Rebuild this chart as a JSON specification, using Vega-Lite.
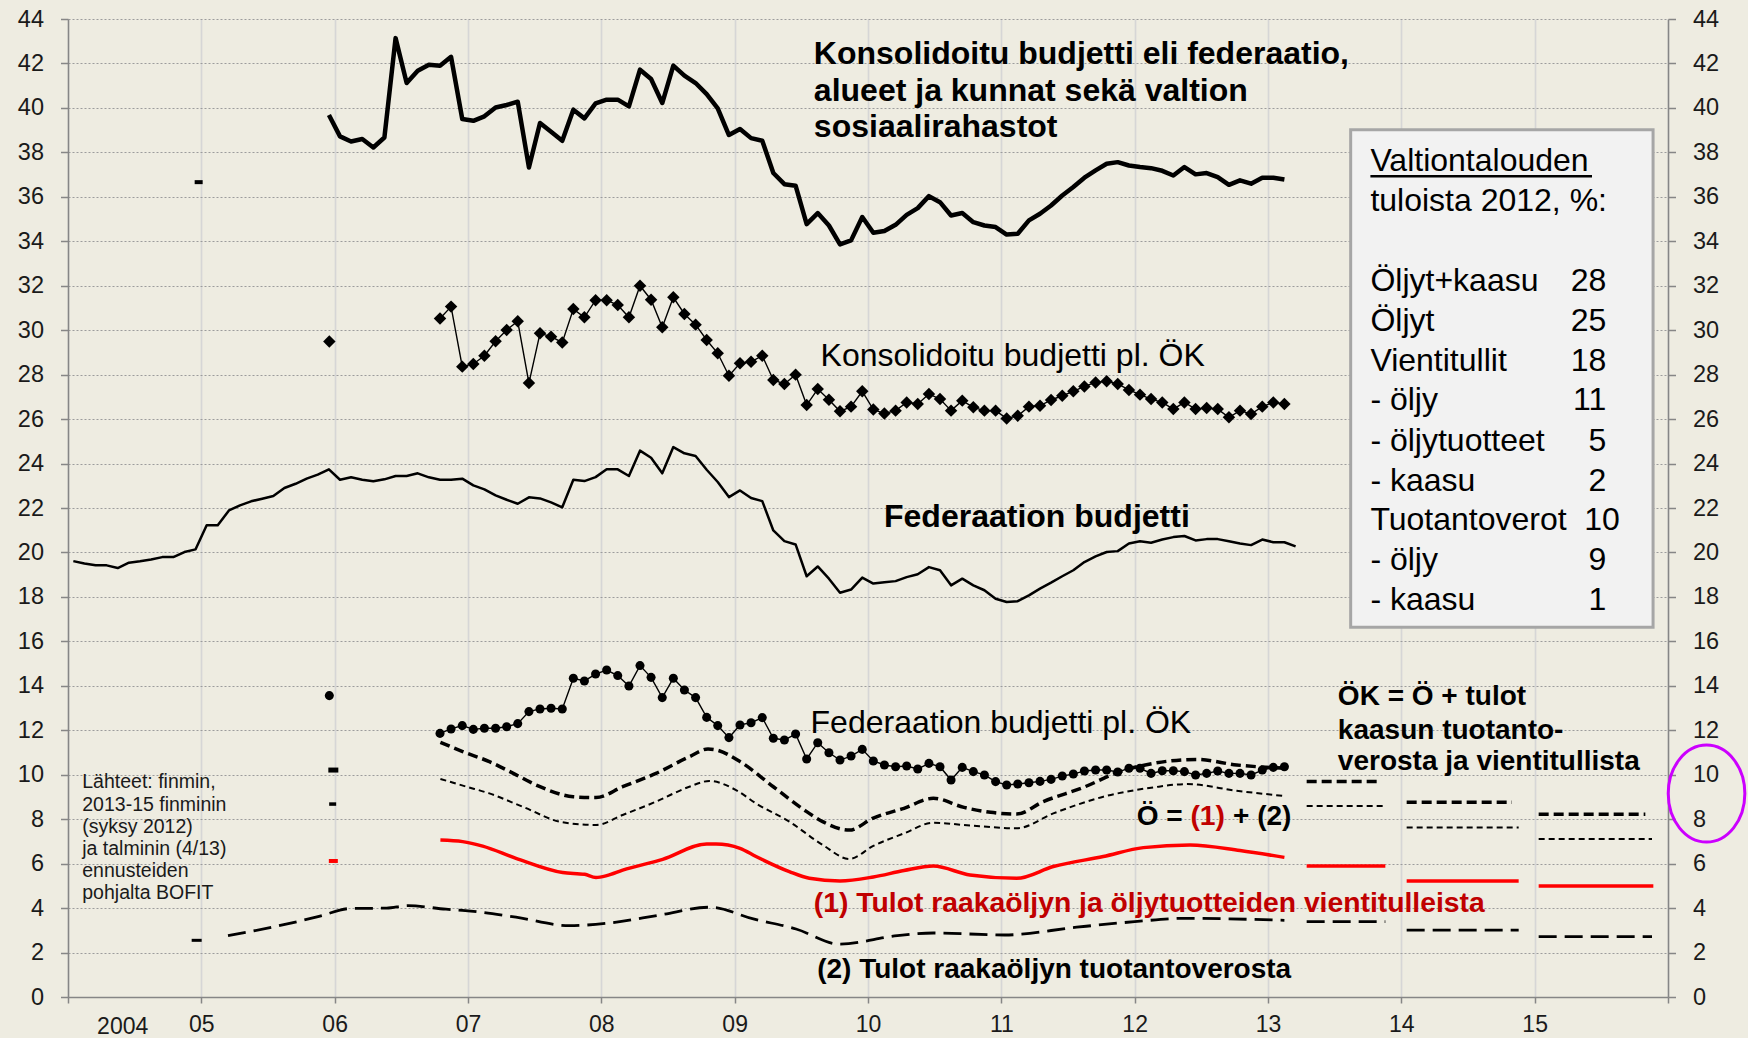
{
"$schema":"https://vega.github.io/schema/vega-lite/v6.json",
"width":1600,"height":978,
"autosize":{"type":"none"},
"padding":{"left":68,"top":19,"right":80,"bottom":41},
"background":"#EEECE1",
"config":{"view":{"stroke":null},"font":"Liberation Sans"},
"datasets":{
"lines":[
{"s":"fed","g":"m","t":2004.040,"v":19.61},{"s":"fed","g":"m","t":2004.123,"v":19.50},{"s":"fed","g":"m","t":2004.207,"v":19.42},{"s":"fed","g":"m","t":2004.290,"v":19.42},{"s":"fed","g":"m","t":2004.373,"v":19.30},{"s":"fed","g":"m","t":2004.457,"v":19.54},{"s":"fed","g":"m","t":2004.540,"v":19.60},{"s":"fed","g":"m","t":2004.623,"v":19.68},{"s":"fed","g":"m","t":2004.707,"v":19.79},{"s":"fed","g":"m","t":2004.790,"v":19.79},{"s":"fed","g":"m","t":2004.873,"v":20.02},{"s":"fed","g":"m","t":2004.957,"v":20.14},
{"s":"fed","g":"m","t":2005.040,"v":21.22},{"s":"fed","g":"m","t":2005.123,"v":21.22},{"s":"fed","g":"m","t":2005.207,"v":21.89},{"s":"fed","g":"m","t":2005.290,"v":22.12},{"s":"fed","g":"m","t":2005.373,"v":22.30},{"s":"fed","g":"m","t":2005.457,"v":22.42},{"s":"fed","g":"m","t":2005.540,"v":22.54},{"s":"fed","g":"m","t":2005.623,"v":22.90},{"s":"fed","g":"m","t":2005.707,"v":23.09},{"s":"fed","g":"m","t":2005.790,"v":23.32},{"s":"fed","g":"m","t":2005.873,"v":23.50},{"s":"fed","g":"m","t":2005.957,"v":23.74},
{"s":"fed","g":"m","t":2006.040,"v":23.27},{"s":"fed","g":"m","t":2006.123,"v":23.38},{"s":"fed","g":"m","t":2006.207,"v":23.27},{"s":"fed","g":"m","t":2006.290,"v":23.20},{"s":"fed","g":"m","t":2006.373,"v":23.29},{"s":"fed","g":"m","t":2006.457,"v":23.44},{"s":"fed","g":"m","t":2006.540,"v":23.44},{"s":"fed","g":"m","t":2006.623,"v":23.56},{"s":"fed","g":"m","t":2006.707,"v":23.38},{"s":"fed","g":"m","t":2006.790,"v":23.27},{"s":"fed","g":"m","t":2006.873,"v":23.27},{"s":"fed","g":"m","t":2006.957,"v":23.32},
{"s":"fed","g":"m","t":2007.040,"v":23.02},{"s":"fed","g":"m","t":2007.123,"v":22.84},{"s":"fed","g":"m","t":2007.207,"v":22.57},{"s":"fed","g":"m","t":2007.290,"v":22.37},{"s":"fed","g":"m","t":2007.373,"v":22.19},{"s":"fed","g":"m","t":2007.457,"v":22.48},{"s":"fed","g":"m","t":2007.540,"v":22.43},{"s":"fed","g":"m","t":2007.623,"v":22.25},{"s":"fed","g":"m","t":2007.707,"v":22.03},{"s":"fed","g":"m","t":2007.790,"v":23.27},{"s":"fed","g":"m","t":2007.873,"v":23.21},{"s":"fed","g":"m","t":2007.957,"v":23.39},
{"s":"fed","g":"m","t":2008.040,"v":23.74},{"s":"fed","g":"m","t":2008.123,"v":23.74},{"s":"fed","g":"m","t":2008.207,"v":23.44},{"s":"fed","g":"m","t":2008.290,"v":24.58},{"s":"fed","g":"m","t":2008.373,"v":24.26},{"s":"fed","g":"m","t":2008.457,"v":23.56},{"s":"fed","g":"m","t":2008.540,"v":24.74},{"s":"fed","g":"m","t":2008.623,"v":24.46},{"s":"fed","g":"m","t":2008.707,"v":24.34},{"s":"fed","g":"m","t":2008.790,"v":23.72},{"s":"fed","g":"m","t":2008.873,"v":23.17},{"s":"fed","g":"m","t":2008.957,"v":22.49},
{"s":"fed","g":"m","t":2009.040,"v":22.79},{"s":"fed","g":"m","t":2009.123,"v":22.45},{"s":"fed","g":"m","t":2009.207,"v":22.31},{"s":"fed","g":"m","t":2009.290,"v":20.99},{"s":"fed","g":"m","t":2009.373,"v":20.51},{"s":"fed","g":"m","t":2009.457,"v":20.36},{"s":"fed","g":"m","t":2009.540,"v":18.93},{"s":"fed","g":"m","t":2009.623,"v":19.37},{"s":"fed","g":"m","t":2009.707,"v":18.82},{"s":"fed","g":"m","t":2009.790,"v":18.19},{"s":"fed","g":"m","t":2009.873,"v":18.33},{"s":"fed","g":"m","t":2009.957,"v":18.87},
{"s":"fed","g":"m","t":2010.040,"v":18.60},{"s":"fed","g":"m","t":2010.123,"v":18.66},{"s":"fed","g":"m","t":2010.207,"v":18.71},{"s":"fed","g":"m","t":2010.290,"v":18.89},{"s":"fed","g":"m","t":2010.373,"v":19.02},{"s":"fed","g":"m","t":2010.457,"v":19.34},{"s":"fed","g":"m","t":2010.540,"v":19.20},{"s":"fed","g":"m","t":2010.623,"v":18.52},{"s":"fed","g":"m","t":2010.707,"v":18.82},{"s":"fed","g":"m","t":2010.790,"v":18.52},{"s":"fed","g":"m","t":2010.873,"v":18.30},{"s":"fed","g":"m","t":2010.957,"v":17.92},
{"s":"fed","g":"m","t":2011.040,"v":17.77},{"s":"fed","g":"m","t":2011.123,"v":17.81},{"s":"fed","g":"m","t":2011.207,"v":18.07},{"s":"fed","g":"m","t":2011.290,"v":18.37},{"s":"fed","g":"m","t":2011.373,"v":18.64},{"s":"fed","g":"m","t":2011.457,"v":18.93},{"s":"fed","g":"m","t":2011.540,"v":19.20},{"s":"fed","g":"m","t":2011.623,"v":19.57},{"s":"fed","g":"m","t":2011.707,"v":19.82},{"s":"fed","g":"m","t":2011.790,"v":20.02},{"s":"fed","g":"m","t":2011.873,"v":20.06},{"s":"fed","g":"m","t":2011.957,"v":20.40},
{"s":"fed","g":"m","t":2012.040,"v":20.50},{"s":"fed","g":"m","t":2012.123,"v":20.44},{"s":"fed","g":"m","t":2012.207,"v":20.58},{"s":"fed","g":"m","t":2012.290,"v":20.69},{"s":"fed","g":"m","t":2012.373,"v":20.74},{"s":"fed","g":"m","t":2012.457,"v":20.54},{"s":"fed","g":"m","t":2012.540,"v":20.60},{"s":"fed","g":"m","t":2012.623,"v":20.60},{"s":"fed","g":"m","t":2012.707,"v":20.50},{"s":"fed","g":"m","t":2012.790,"v":20.40},{"s":"fed","g":"m","t":2012.873,"v":20.33},{"s":"fed","g":"m","t":2012.957,"v":20.58},
{"s":"fed","g":"m","t":2013.040,"v":20.46},{"s":"fed","g":"m","t":2013.123,"v":20.46},{"s":"fed","g":"m","t":2013.207,"v":20.27},
{"s":"kons","g":"m","t":2005.957,"v":39.68},
{"s":"kons","g":"m","t":2006.040,"v":38.72},{"s":"kons","g":"m","t":2006.123,"v":38.49},{"s":"kons","g":"m","t":2006.207,"v":38.60},{"s":"kons","g":"m","t":2006.290,"v":38.22},{"s":"kons","g":"m","t":2006.373,"v":38.67},{"s":"kons","g":"m","t":2006.457,"v":43.14},{"s":"kons","g":"m","t":2006.540,"v":41.12},{"s":"kons","g":"m","t":2006.623,"v":41.67},{"s":"kons","g":"m","t":2006.707,"v":41.94},{"s":"kons","g":"m","t":2006.790,"v":41.90},{"s":"kons","g":"m","t":2006.873,"v":42.30},{"s":"kons","g":"m","t":2006.957,"v":39.50},
{"s":"kons","g":"m","t":2007.040,"v":39.42},{"s":"kons","g":"m","t":2007.123,"v":39.62},{"s":"kons","g":"m","t":2007.207,"v":40.02},{"s":"kons","g":"m","t":2007.290,"v":40.13},{"s":"kons","g":"m","t":2007.373,"v":40.28},{"s":"kons","g":"m","t":2007.457,"v":37.32},{"s":"kons","g":"m","t":2007.540,"v":39.32},{"s":"kons","g":"m","t":2007.623,"v":38.93},{"s":"kons","g":"m","t":2007.707,"v":38.52},{"s":"kons","g":"m","t":2007.790,"v":39.92},{"s":"kons","g":"m","t":2007.873,"v":39.53},{"s":"kons","g":"m","t":2007.957,"v":40.20},
{"s":"kons","g":"m","t":2008.040,"v":40.37},{"s":"kons","g":"m","t":2008.123,"v":40.37},{"s":"kons","g":"m","t":2008.207,"v":40.07},{"s":"kons","g":"m","t":2008.290,"v":41.72},{"s":"kons","g":"m","t":2008.373,"v":41.30},{"s":"kons","g":"m","t":2008.457,"v":40.22},{"s":"kons","g":"m","t":2008.540,"v":41.90},{"s":"kons","g":"m","t":2008.623,"v":41.45},{"s":"kons","g":"m","t":2008.707,"v":41.12},{"s":"kons","g":"m","t":2008.790,"v":40.62},{"s":"kons","g":"m","t":2008.873,"v":39.98},{"s":"kons","g":"m","t":2008.957,"v":38.78},
{"s":"kons","g":"m","t":2009.040,"v":39.05},{"s":"kons","g":"m","t":2009.123,"v":38.64},{"s":"kons","g":"m","t":2009.207,"v":38.52},{"s":"kons","g":"m","t":2009.290,"v":37.07},{"s":"kons","g":"m","t":2009.373,"v":36.57},{"s":"kons","g":"m","t":2009.457,"v":36.50},{"s":"kons","g":"m","t":2009.540,"v":34.77},{"s":"kons","g":"m","t":2009.623,"v":35.27},{"s":"kons","g":"m","t":2009.707,"v":34.71},{"s":"kons","g":"m","t":2009.790,"v":33.86},{"s":"kons","g":"m","t":2009.873,"v":34.04},{"s":"kons","g":"m","t":2009.957,"v":35.09},
{"s":"kons","g":"m","t":2010.040,"v":34.38},{"s":"kons","g":"m","t":2010.123,"v":34.46},{"s":"kons","g":"m","t":2010.207,"v":34.74},{"s":"kons","g":"m","t":2010.290,"v":35.19},{"s":"kons","g":"m","t":2010.373,"v":35.49},{"s":"kons","g":"m","t":2010.457,"v":36.03},{"s":"kons","g":"m","t":2010.540,"v":35.76},{"s":"kons","g":"m","t":2010.623,"v":35.16},{"s":"kons","g":"m","t":2010.707,"v":35.27},{"s":"kons","g":"m","t":2010.790,"v":34.86},{"s":"kons","g":"m","t":2010.873,"v":34.71},{"s":"kons","g":"m","t":2010.957,"v":34.64},
{"s":"kons","g":"m","t":2011.040,"v":34.30},{"s":"kons","g":"m","t":2011.123,"v":34.34},{"s":"kons","g":"m","t":2011.207,"v":34.94},{"s":"kons","g":"m","t":2011.290,"v":35.24},{"s":"kons","g":"m","t":2011.373,"v":35.61},{"s":"kons","g":"m","t":2011.457,"v":36.06},{"s":"kons","g":"m","t":2011.540,"v":36.44},{"s":"kons","g":"m","t":2011.623,"v":36.86},{"s":"kons","g":"m","t":2011.707,"v":37.19},{"s":"kons","g":"m","t":2011.790,"v":37.49},{"s":"kons","g":"m","t":2011.873,"v":37.56},{"s":"kons","g":"m","t":2011.957,"v":37.41},
{"s":"kons","g":"m","t":2012.040,"v":37.34},{"s":"kons","g":"m","t":2012.123,"v":37.29},{"s":"kons","g":"m","t":2012.207,"v":37.17},{"s":"kons","g":"m","t":2012.290,"v":36.96},{"s":"kons","g":"m","t":2012.373,"v":37.34},{"s":"kons","g":"m","t":2012.457,"v":37.01},{"s":"kons","g":"m","t":2012.540,"v":37.07},{"s":"kons","g":"m","t":2012.623,"v":36.89},{"s":"kons","g":"m","t":2012.707,"v":36.54},{"s":"kons","g":"m","t":2012.790,"v":36.74},{"s":"kons","g":"m","t":2012.873,"v":36.59},{"s":"kons","g":"m","t":2012.957,"v":36.86},
{"s":"kons","g":"m","t":2013.040,"v":36.86},{"s":"kons","g":"m","t":2013.123,"v":36.78},
{"s":"konsx","g":"a","t":2005.960,"v":29.49},
{"s":"konsx","g":"m","t":2006.790,"v":30.53},{"s":"konsx","g":"m","t":2006.873,"v":31.06},{"s":"konsx","g":"m","t":2006.957,"v":28.36},
{"s":"konsx","g":"m","t":2007.040,"v":28.48},{"s":"konsx","g":"m","t":2007.123,"v":28.85},{"s":"konsx","g":"m","t":2007.207,"v":29.50},{"s":"konsx","g":"m","t":2007.290,"v":30.01},{"s":"konsx","g":"m","t":2007.373,"v":30.40},{"s":"konsx","g":"m","t":2007.457,"v":27.62},{"s":"konsx","g":"m","t":2007.540,"v":29.86},{"s":"konsx","g":"m","t":2007.623,"v":29.71},{"s":"konsx","g":"m","t":2007.707,"v":29.45},{"s":"konsx","g":"m","t":2007.790,"v":30.95},{"s":"konsx","g":"m","t":2007.873,"v":30.58},{"s":"konsx","g":"m","t":2007.957,"v":31.35},
{"s":"konsx","g":"m","t":2008.040,"v":31.35},{"s":"konsx","g":"m","t":2008.123,"v":31.13},{"s":"konsx","g":"m","t":2008.207,"v":30.58},{"s":"konsx","g":"m","t":2008.290,"v":32.00},{"s":"konsx","g":"m","t":2008.373,"v":31.37},{"s":"konsx","g":"m","t":2008.457,"v":30.13},{"s":"konsx","g":"m","t":2008.540,"v":31.48},{"s":"konsx","g":"m","t":2008.623,"v":30.73},{"s":"konsx","g":"m","t":2008.707,"v":30.25},{"s":"konsx","g":"m","t":2008.790,"v":29.56},{"s":"konsx","g":"m","t":2008.873,"v":28.96},{"s":"konsx","g":"m","t":2008.957,"v":27.95},
{"s":"konsx","g":"m","t":2009.040,"v":28.51},{"s":"konsx","g":"m","t":2009.123,"v":28.58},{"s":"konsx","g":"m","t":2009.207,"v":28.85},{"s":"konsx","g":"m","t":2009.290,"v":27.76},{"s":"konsx","g":"m","t":2009.373,"v":27.58},{"s":"konsx","g":"m","t":2009.457,"v":28.00},{"s":"konsx","g":"m","t":2009.540,"v":26.63},{"s":"konsx","g":"m","t":2009.623,"v":27.35},{"s":"konsx","g":"m","t":2009.707,"v":26.87},{"s":"konsx","g":"m","t":2009.790,"v":26.35},{"s":"konsx","g":"m","t":2009.873,"v":26.56},{"s":"konsx","g":"m","t":2009.957,"v":27.25},
{"s":"konsx","g":"m","t":2010.040,"v":26.43},{"s":"konsx","g":"m","t":2010.123,"v":26.25},{"s":"konsx","g":"m","t":2010.207,"v":26.38},{"s":"konsx","g":"m","t":2010.290,"v":26.75},{"s":"konsx","g":"m","t":2010.373,"v":26.68},{"s":"konsx","g":"m","t":2010.457,"v":27.13},{"s":"konsx","g":"m","t":2010.540,"v":26.90},{"s":"konsx","g":"m","t":2010.623,"v":26.38},{"s":"konsx","g":"m","t":2010.707,"v":26.83},{"s":"konsx","g":"m","t":2010.790,"v":26.53},{"s":"konsx","g":"m","t":2010.873,"v":26.38},{"s":"konsx","g":"m","t":2010.957,"v":26.38},
{"s":"konsx","g":"m","t":2011.040,"v":26.03},{"s":"konsx","g":"m","t":2011.123,"v":26.15},{"s":"konsx","g":"m","t":2011.207,"v":26.56},{"s":"konsx","g":"m","t":2011.290,"v":26.60},{"s":"konsx","g":"m","t":2011.373,"v":26.86},{"s":"konsx","g":"m","t":2011.457,"v":27.05},{"s":"konsx","g":"m","t":2011.540,"v":27.25},{"s":"konsx","g":"m","t":2011.623,"v":27.47},{"s":"konsx","g":"m","t":2011.707,"v":27.65},{"s":"konsx","g":"m","t":2011.790,"v":27.70},{"s":"konsx","g":"m","t":2011.873,"v":27.58},{"s":"konsx","g":"m","t":2011.957,"v":27.31},
{"s":"konsx","g":"m","t":2012.040,"v":27.10},{"s":"konsx","g":"m","t":2012.123,"v":26.90},{"s":"konsx","g":"m","t":2012.207,"v":26.75},{"s":"konsx","g":"m","t":2012.290,"v":26.45},{"s":"konsx","g":"m","t":2012.373,"v":26.75},{"s":"konsx","g":"m","t":2012.457,"v":26.45},{"s":"konsx","g":"m","t":2012.540,"v":26.50},{"s":"konsx","g":"m","t":2012.623,"v":26.45},{"s":"konsx","g":"m","t":2012.707,"v":26.08},{"s":"konsx","g":"m","t":2012.790,"v":26.38},{"s":"konsx","g":"m","t":2012.873,"v":26.23},{"s":"konsx","g":"m","t":2012.957,"v":26.56},
{"s":"konsx","g":"m","t":2013.040,"v":26.75},{"s":"konsx","g":"m","t":2013.123,"v":26.68},
{"s":"fedx","g":"a","t":2005.960,"v":13.56},
{"s":"fedx","g":"m","t":2006.790,"v":11.86},{"s":"fedx","g":"m","t":2006.873,"v":12.06},{"s":"fedx","g":"m","t":2006.957,"v":12.21},
{"s":"fedx","g":"m","t":2007.040,"v":12.04},{"s":"fedx","g":"m","t":2007.123,"v":12.09},{"s":"fedx","g":"m","t":2007.207,"v":12.09},{"s":"fedx","g":"m","t":2007.290,"v":12.16},{"s":"fedx","g":"m","t":2007.373,"v":12.30},{"s":"fedx","g":"m","t":2007.457,"v":12.84},{"s":"fedx","g":"m","t":2007.540,"v":12.96},{"s":"fedx","g":"m","t":2007.623,"v":12.99},{"s":"fedx","g":"m","t":2007.707,"v":12.96},{"s":"fedx","g":"m","t":2007.790,"v":14.34},{"s":"fedx","g":"m","t":2007.873,"v":14.22},{"s":"fedx","g":"m","t":2007.957,"v":14.53},
{"s":"fedx","g":"m","t":2008.040,"v":14.71},{"s":"fedx","g":"m","t":2008.123,"v":14.46},{"s":"fedx","g":"m","t":2008.207,"v":13.99},{"s":"fedx","g":"m","t":2008.290,"v":14.91},{"s":"fedx","g":"m","t":2008.373,"v":14.38},{"s":"fedx","g":"m","t":2008.457,"v":13.47},{"s":"fedx","g":"m","t":2008.540,"v":14.34},{"s":"fedx","g":"m","t":2008.623,"v":13.81},{"s":"fedx","g":"m","t":2008.707,"v":13.47},{"s":"fedx","g":"m","t":2008.790,"v":12.58},{"s":"fedx","g":"m","t":2008.873,"v":12.21},{"s":"fedx","g":"m","t":2008.957,"v":11.67},
{"s":"fedx","g":"m","t":2009.040,"v":12.24},{"s":"fedx","g":"m","t":2009.123,"v":12.34},{"s":"fedx","g":"m","t":2009.207,"v":12.57},{"s":"fedx","g":"m","t":2009.290,"v":11.64},{"s":"fedx","g":"m","t":2009.373,"v":11.56},{"s":"fedx","g":"m","t":2009.457,"v":11.83},{"s":"fedx","g":"m","t":2009.540,"v":10.71},{"s":"fedx","g":"m","t":2009.623,"v":11.44},{"s":"fedx","g":"m","t":2009.707,"v":10.99},{"s":"fedx","g":"m","t":2009.790,"v":10.66},{"s":"fedx","g":"m","t":2009.873,"v":10.84},{"s":"fedx","g":"m","t":2009.957,"v":11.14},
{"s":"fedx","g":"m","t":2010.040,"v":10.62},{"s":"fedx","g":"m","t":2010.123,"v":10.44},{"s":"fedx","g":"m","t":2010.207,"v":10.36},{"s":"fedx","g":"m","t":2010.290,"v":10.39},{"s":"fedx","g":"m","t":2010.373,"v":10.26},{"s":"fedx","g":"m","t":2010.457,"v":10.51},{"s":"fedx","g":"m","t":2010.540,"v":10.36},{"s":"fedx","g":"m","t":2010.623,"v":9.76},{"s":"fedx","g":"m","t":2010.707,"v":10.33},{"s":"fedx","g":"m","t":2010.790,"v":10.14},{"s":"fedx","g":"m","t":2010.873,"v":9.99},{"s":"fedx","g":"m","t":2010.957,"v":9.69},
{"s":"fedx","g":"m","t":2011.040,"v":9.54},{"s":"fedx","g":"m","t":2011.123,"v":9.58},{"s":"fedx","g":"m","t":2011.207,"v":9.64},{"s":"fedx","g":"m","t":2011.290,"v":9.70},{"s":"fedx","g":"m","t":2011.373,"v":9.79},{"s":"fedx","g":"m","t":2011.457,"v":9.94},{"s":"fedx","g":"m","t":2011.540,"v":10.03},{"s":"fedx","g":"m","t":2011.623,"v":10.17},{"s":"fedx","g":"m","t":2011.707,"v":10.21},{"s":"fedx","g":"m","t":2011.790,"v":10.21},{"s":"fedx","g":"m","t":2011.873,"v":10.12},{"s":"fedx","g":"m","t":2011.957,"v":10.29},
{"s":"fedx","g":"m","t":2012.040,"v":10.29},{"s":"fedx","g":"m","t":2012.123,"v":10.06},{"s":"fedx","g":"m","t":2012.207,"v":10.18},{"s":"fedx","g":"m","t":2012.290,"v":10.18},{"s":"fedx","g":"m","t":2012.373,"v":10.14},{"s":"fedx","g":"m","t":2012.457,"v":9.99},{"s":"fedx","g":"m","t":2012.540,"v":10.06},{"s":"fedx","g":"m","t":2012.623,"v":10.17},{"s":"fedx","g":"m","t":2012.707,"v":10.06},{"s":"fedx","g":"m","t":2012.790,"v":10.06},{"s":"fedx","g":"m","t":2012.873,"v":9.99},{"s":"fedx","g":"m","t":2012.957,"v":10.21},
{"s":"fedx","g":"m","t":2013.040,"v":10.33},{"s":"fedx","g":"m","t":2013.123,"v":10.36},
{"s":"ok","g":"m","t":2006.793,"v":11.46},{"s":"ok","g":"m","t":2006.96,"v":11.04},{"s":"ok","g":"m","t":2007.16,"v":10.59},{"s":"ok","g":"m","t":2007.34,"v":10.06},{"s":"ok","g":"m","t":2007.54,"v":9.46},{"s":"ok","g":"m","t":2007.79,"v":9.01},{"s":"ok","g":"m","t":2007.96,"v":8.97},{"s":"ok","g":"m","t":2008.16,"v":9.46},{"s":"ok","g":"m","t":2008.41,"v":10.06},{"s":"ok","g":"m","t":2008.66,"v":10.81},{"s":"ok","g":"m","t":2008.80,"v":11.16},{"s":"ok","g":"m","t":2008.86,"v":11.12},{"s":"ok","g":"m","t":2009.04,"v":10.59},{"s":"ok","g":"m","t":2009.29,"v":9.46},{"s":"ok","g":"m","t":2009.54,"v":8.34},{"s":"ok","g":"m","t":2009.66,"v":7.89},{"s":"ok","g":"m","t":2009.86,"v":7.51},{"s":"ok","g":"m","t":2010.04,"v":8.05},{"s":"ok","g":"m","t":2010.27,"v":8.49},{"s":"ok","g":"m","t":2010.49,"v":8.94},{"s":"ok","g":"m","t":2010.72,"v":8.53},{"s":"ok","g":"m","t":2010.92,"v":8.31},{"s":"ok","g":"m","t":2011.115,"v":8.23},{"s":"ok","g":"m","t":2011.315,"v":8.79},{"s":"ok","g":"m","t":2011.615,"v":9.43},{"s":"ok","g":"m","t":2011.89,"v":10.14},{"s":"ok","g":"m","t":2012.14,"v":10.51},{"s":"ok","g":"m","t":2012.465,"v":10.69},{"s":"ok","g":"m","t":2012.765,"v":10.44},{"s":"ok","g":"m","t":2013.123,"v":10.29},
{"s":"ok","g":"e1","t":2013.29,"v":9.69},{"s":"ok","g":"e1","t":2013.84,"v":9.69},{"s":"ok","g":"e2","t":2014.04,"v":8.76},{"s":"ok","g":"e2","t":2014.83,"v":8.76},{"s":"ok","g":"e3","t":2015.03,"v":8.22},{"s":"ok","g":"e3","t":2015.83,"v":8.22},
{"s":"o","g":"m","t":2006.793,"v":9.81},{"s":"o","g":"m","t":2006.99,"v":9.46},{"s":"o","g":"m","t":2007.16,"v":9.16},{"s":"o","g":"m","t":2007.41,"v":8.56},{"s":"o","g":"m","t":2007.71,"v":7.86},{"s":"o","g":"m","t":2007.96,"v":7.74},{"s":"o","g":"m","t":2008.16,"v":8.19},{"s":"o","g":"m","t":2008.41,"v":8.79},{"s":"o","g":"m","t":2008.66,"v":9.46},{"s":"o","g":"m","t":2008.81,"v":9.72},{"s":"o","g":"m","t":2009.01,"v":9.31},{"s":"o","g":"m","t":2009.16,"v":8.71},{"s":"o","g":"m","t":2009.41,"v":7.89},{"s":"o","g":"m","t":2009.66,"v":6.84},{"s":"o","g":"m","t":2009.86,"v":6.21},{"s":"o","g":"m","t":2010.04,"v":6.80},{"s":"o","g":"m","t":2010.27,"v":7.36},{"s":"o","g":"m","t":2010.49,"v":7.84},{"s":"o","g":"m","t":2010.72,"v":7.74},{"s":"o","g":"m","t":2011.115,"v":7.59},{"s":"o","g":"m","t":2011.39,"v":8.26},{"s":"o","g":"m","t":2011.765,"v":9.01},{"s":"o","g":"m","t":2012.14,"v":9.43},{"s":"o","g":"m","t":2012.39,"v":9.58},{"s":"o","g":"m","t":2012.765,"v":9.28},{"s":"o","g":"m","t":2013.123,"v":9.04},
{"s":"o","g":"e1","t":2013.29,"v":8.59},{"s":"o","g":"e1","t":2013.88,"v":8.59},{"s":"o","g":"e2","t":2014.04,"v":7.63},{"s":"o","g":"e2","t":2014.88,"v":7.63},{"s":"o","g":"e3","t":2015.03,"v":7.11},{"s":"o","g":"e3","t":2015.88,"v":7.11},
{"s":"r1","g":"m","t":2006.793,"v":7.06},{"s":"r1","g":"m","t":2006.96,"v":6.99},{"s":"r1","g":"m","t":2007.11,"v":6.79},{"s":"r1","g":"m","t":2007.36,"v":6.24},{"s":"r1","g":"m","t":2007.71,"v":5.60},{"s":"r1","g":"m","t":2007.875,"v":5.52},{"s":"r1","g":"m","t":2007.96,"v":5.38},{"s":"r1","g":"m","t":2008.04,"v":5.46},{"s":"r1","g":"m","t":2008.16,"v":5.71},{"s":"r1","g":"m","t":2008.46,"v":6.19},{"s":"r1","g":"m","t":2008.79,"v":6.88},{"s":"r1","g":"m","t":2008.86,"v":6.88},{"s":"r1","g":"m","t":2009.04,"v":6.69},{"s":"r1","g":"m","t":2009.16,"v":6.32},{"s":"r1","g":"m","t":2009.41,"v":5.64},{"s":"r1","g":"m","t":2009.56,"v":5.34},{"s":"r1","g":"m","t":2009.79,"v":5.22},{"s":"r1","g":"m","t":2010.04,"v":5.40},{"s":"r1","g":"m","t":2010.27,"v":5.69},{"s":"r1","g":"m","t":2010.49,"v":5.89},{"s":"r1","g":"m","t":2010.765,"v":5.49},{"s":"r1","g":"m","t":2011.115,"v":5.34},{"s":"r1","g":"m","t":2011.39,"v":5.87},{"s":"r1","g":"m","t":2011.765,"v":6.32},{"s":"r1","g":"m","t":2012.065,"v":6.72},{"s":"r1","g":"m","t":2012.415,"v":6.84},{"s":"r1","g":"m","t":2012.79,"v":6.59},{"s":"r1","g":"m","t":2013.123,"v":6.28},
{"s":"r1","g":"e1","t":2013.29,"v":5.89},{"s":"r1","g":"e1","t":2013.88,"v":5.89},{"s":"r1","g":"e2","t":2014.04,"v":5.22},{"s":"r1","g":"e2","t":2014.88,"v":5.22},{"s":"r1","g":"e3","t":2015.03,"v":4.99},{"s":"r1","g":"e3","t":2015.89,"v":4.99},
{"s":"r2","g":"m","t":2005.20,"v":2.76},{"s":"r2","g":"m","t":2005.39,"v":2.97},{"s":"r2","g":"m","t":2005.57,"v":3.19},{"s":"r2","g":"m","t":2005.74,"v":3.42},{"s":"r2","g":"m","t":2005.89,"v":3.64},{"s":"r2","g":"m","t":2006.115,"v":3.98},{"s":"r2","g":"m","t":2006.39,"v":4.00},{"s":"r2","g":"m","t":2006.55,"v":4.11},{"s":"r2","g":"m","t":2006.835,"v":3.95},{"s":"r2","g":"m","t":2006.98,"v":3.89},{"s":"r2","g":"m","t":2007.36,"v":3.59},{"s":"r2","g":"m","t":2007.76,"v":3.21},{"s":"r2","g":"m","t":2008.06,"v":3.33},{"s":"r2","g":"m","t":2008.44,"v":3.69},{"s":"r2","g":"m","t":2008.815,"v":4.04},{"s":"r2","g":"m","t":2009.14,"v":3.51},{"s":"r2","g":"m","t":2009.46,"v":3.06},{"s":"r2","g":"m","t":2009.785,"v":2.38},{"s":"r2","g":"m","t":2010.22,"v":2.76},{"s":"r2","g":"m","t":2010.49,"v":2.88},{"s":"r2","g":"m","t":2011.025,"v":2.79},{"s":"r2","g":"m","t":2011.565,"v":3.14},{"s":"r2","g":"m","t":2012.00,"v":3.39},{"s":"r2","g":"m","t":2012.375,"v":3.54},{"s":"r2","g":"m","t":2013.123,"v":3.45},
{"s":"r2","g":"e1","t":2013.29,"v":3.39},{"s":"r2","g":"e1","t":2013.88,"v":3.39},{"s":"r2","g":"e2","t":2014.04,"v":3.01},{"s":"r2","g":"e2","t":2014.88,"v":3.01},{"s":"r2","g":"e3","t":2015.03,"v":2.72},{"s":"r2","g":"e3","t":2015.88,"v":2.72}
],
"annual":[
{"s":"kons","t":2004.98,"v":36.66},
{"s":"r2","t":2004.965,"v":2.55},
{"s":"ok","t":2005.99,"v":10.21},
{"s":"o","t":2005.985,"v":8.68},
{"s":"r1","t":2005.99,"v":6.12}
],
"box":[{"t":2013.62,"t2":2015.888,"v":39.02,"v2":16.63}],
"uline":[{"t":2013.768,"t2":2015.43,"v":36.92}],
"ell":[{"t":2016.289,"v":9.15}],
"texts":[
{"r":"b32","txt":"Konsolidoitu budjetti eli federaatio,","t":2009.594,"v":41.96},
{"r":"b32","txt":"alueet ja kunnat sekä valtion","t":2009.594,"v":40.30},
{"r":"b32","txt":"sosiaalirahastot","t":2009.594,"v":38.70},
{"r":"b32","txt":"Federaation budjetti","t":2010.12,"v":21.15},
{"r":"n32","txt":"Konsolidoitu budjetti pl. ÖK","t":2009.644,"v":28.37},
{"r":"n32","txt":"Federaation budjetti pl. ÖK","t":2009.569,"v":11.88},
{"r":"n32","txt":"Valtiontalouden","t":2013.768,"v":37.14},
{"r":"n32","txt":"tuloista 2012, %:","t":2013.768,"v":35.34},
{"r":"n32","txt":"Öljyt+kaasu","t":2013.768,"v":31.75},
{"r":"n32","txt":"Öljyt","t":2013.768,"v":29.95},
{"r":"n32","txt":"Vientitullit","t":2013.768,"v":28.18},
{"r":"n32","txt":"- öljy","t":2013.768,"v":26.42},
{"r":"n32","txt":"- öljytuotteet","t":2013.768,"v":24.58},
{"r":"n32","txt":"- kaasu","t":2013.768,"v":22.78},
{"r":"n32","txt":"Tuotantoverot","t":2013.768,"v":21.03},
{"r":"n32","txt":"- öljy","t":2013.768,"v":19.23},
{"r":"n32","txt":"- kaasu","t":2013.768,"v":17.43},
{"r":"num","txt":"28","t":2015.537,"v":31.75},
{"r":"num","txt":"25","t":2015.537,"v":29.95},
{"r":"num","txt":"18","t":2015.537,"v":28.18},
{"r":"num","txt":"11","t":2015.537,"v":26.42},
{"r":"num","txt":"5","t":2015.537,"v":24.58},
{"r":"num","txt":"2","t":2015.537,"v":22.78},
{"r":"num","txt":"10","t":2015.638,"v":21.03},
{"r":"num","txt":"9","t":2015.537,"v":19.23},
{"r":"num","txt":"1","t":2015.537,"v":17.43},
{"r":"b28","txt":"ÖK = Ö + tulot","t":2013.524,"v":13.14},
{"r":"b28","txt":"kaasun tuotanto-","t":2013.524,"v":11.59},
{"r":"b28","txt":"verosta ja vientitullista","t":2013.524,"v":10.22},
{"r":"b28","txt":"Ö =","t":2012.015,"v":7.74},
{"r":"b28","txt":"+ (2)","t":2012.738,"v":7.74},
{"r":"b28","txt":"(2) Tulot raakaöljyn tuotantoverosta","t":2009.619,"v":0.85},
{"r":"r28","txt":"(1)","t":2012.418,"v":7.74},
{"r":"r28","txt":"(1) Tulot raakaöljyn ja öljytuotteiden vientitulleista","t":2009.594,"v":3.83},
{"r":"n19","txt":"Lähteet: finmin,","t":2004.107,"v":9.42},
{"r":"n19","txt":"2013-15 finminin","t":2004.107,"v":8.37},
{"r":"n19","txt":"(syksy 2012)","t":2004.107,"v":7.40},
{"r":"n19","txt":"ja talminin (4/13)","t":2004.107,"v":6.37},
{"r":"n19","txt":"ennusteiden","t":2004.107,"v":5.42},
{"r":"n19","txt":"pohjalta BOFIT","t":2004.107,"v":4.39},
{"r":"ax","txt":"2004","t":2004.41,"v":-1.68}
]
},
"encoding":{
"x":{"field":"t","type":"quantitative","title":null,"scale":{"domain":[2004,2016],"nice":false,"zero":false},
"axis":{"values":[2004,2005,2006,2007,2008,2009,2010,2011,2012,2013,2014,2015,2016],"format":"d","labelExpr":"datum.value < 2004.5 || datum.value > 2015.5 ? '' : slice(datum.label, 2)","title":null,"grid":true,"gridColor":"#d6d6d6","gridWidth":1.7,"domainColor":"#868686","domainWidth":1.5,"tickColor":"#868686","tickWidth":1.5,"tickSize":6,"labelFont":"Liberation Sans","labelFontSize":23,"labelColor":"#1a1a1a","labelPadding":10,"labelDx":4,"labelFlush":false,"labelOverlap":false,"zindex":0}},
"y":{"field":"v","type":"quantitative","title":null,"scale":{"domain":[0,44],"nice":false,"zero":false},"axis":null}
},
"layer":[
{"data":{"name":"box"},"mark":{"type":"rect","fill":"#F2F2F2","stroke":"#A6A6A6","strokeWidth":3},"encoding":{"x2":{"field":"t2"},"y2":{"field":"v2"}}},
{"data":{"name":"lines"},"transform":[{"filter":"datum.s == 'fed'"}],"mark":{"type":"line","color":"#000000","strokeWidth":2.5,"strokeJoin":"round"},
"encoding":{"y":{"field":"v","type":"quantitative","title":null,"scale":{"domain":[0,44],"nice":false,"zero":false},
"axis":{"orient":"left","values":[0,2,4,6,8,10,12,14,16,18,20,22,24,26,28,30,32,34,36,38,40,42,44],"title":null,"grid":true,"gridColor":"#9c9c9c","gridDash":[2,2],"gridWidth":1,"domainColor":"#868686","domainWidth":1.5,"tickColor":"#868686","tickWidth":1.5,"tickSize":7.5,"labelFont":"Liberation Sans","labelFontSize":23.5,"labelColor":"#1a1a1a","labelPadding":17,"labelFlush":false,"labelOverlap":false,"zindex":0}}}},
{"data":{"name":"lines"},"transform":[{"filter":"datum.s == 'kons'"}],"mark":{"type":"line","color":"#000000","strokeWidth":4.5,"strokeJoin":"round"},
"encoding":{"y":{"field":"v","type":"quantitative","title":null,"scale":{"domain":[0,44],"nice":false,"zero":false},
"axis":{"orient":"right","values":[0,2,4,6,8,10,12,14,16,18,20,22,24,26,28,30,32,34,36,38,40,42,44],"title":null,"grid":false,"domainColor":"#868686","domainWidth":1.5,"tickColor":"#868686","tickWidth":1.5,"tickSize":7.5,"labelFont":"Liberation Sans","labelFontSize":23.5,"labelColor":"#1a1a1a","labelPadding":17,"labelFlush":false,"labelOverlap":false,"zindex":0}}}},
{"data":{"name":"lines"},"transform":[{"filter":"datum.s == 'konsx'"}],"mark":{"type":"line","color":"#000000","strokeWidth":1.4},"encoding":{"detail":{"field":"g"}}},
{"data":{"name":"lines"},"transform":[{"filter":"datum.s == 'konsx'"}],"mark":{"type":"point","shape":"diamond","filled":true,"size":155,"color":"#000000","opacity":1}},
{"data":{"name":"lines"},"transform":[{"filter":"datum.s == 'fedx'"}],"mark":{"type":"line","color":"#000000","strokeWidth":1.4},"encoding":{"detail":{"field":"g"}}},
{"data":{"name":"lines"},"transform":[{"filter":"datum.s == 'fedx'"}],"mark":{"type":"point","shape":"circle","filled":true,"size":82,"color":"#000000","opacity":1}},
{"data":{"name":"lines"},"transform":[{"filter":"datum.s == 'ok'"}],"mark":{"type":"line","color":"#000000","strokeWidth":3.5,"strokeDash":[10,5],"interpolate":"monotone"},"encoding":{"detail":{"field":"g"}}},
{"data":{"name":"lines"},"transform":[{"filter":"datum.s == 'o'"}],"mark":{"type":"line","color":"#000000","strokeWidth":2,"strokeDash":[6,4],"interpolate":"monotone"},"encoding":{"detail":{"field":"g"}}},
{"data":{"name":"lines"},"transform":[{"filter":"datum.s == 'r1'"}],"mark":{"type":"line","color":"#FF0000","strokeWidth":3.5,"interpolate":"monotone"},"encoding":{"detail":{"field":"g"}}},
{"data":{"name":"lines"},"transform":[{"filter":"datum.s == 'r2'"}],"mark":{"type":"line","color":"#000000","strokeWidth":2.8,"strokeDash":[18,8],"interpolate":"monotone"},"encoding":{"detail":{"field":"g"}}},
{"data":{"name":"annual"},"transform":[{"filter":"datum.s == 'kons'"}],"mark":{"type":"tick","orient":"horizontal","size":8,"thickness":4,"color":"#000000","opacity":1}},
{"data":{"name":"annual"},"transform":[{"filter":"datum.s == 'r2'"}],"mark":{"type":"tick","orient":"horizontal","size":10,"thickness":3,"color":"#000000","opacity":1}},
{"data":{"name":"annual"},"transform":[{"filter":"datum.s == 'ok'"}],"mark":{"type":"tick","orient":"horizontal","size":10,"thickness":5,"color":"#000000","opacity":1}},
{"data":{"name":"annual"},"transform":[{"filter":"datum.s == 'o'"}],"mark":{"type":"tick","orient":"horizontal","size":7,"thickness":3.5,"color":"#000000","opacity":1}},
{"data":{"name":"annual"},"transform":[{"filter":"datum.s == 'r1'"}],"mark":{"type":"tick","orient":"horizontal","size":9,"thickness":4,"color":"#FF0000","opacity":1}},
{"data":{"name":"uline"},"mark":{"type":"rule","color":"#000000","strokeWidth":2.5},"encoding":{"x2":{"field":"t2"}}},
{"data":{"name":"texts"},"transform":[{"filter":"datum.r == 'b32'"}],"mark":{"type":"text","align":"left","baseline":"alphabetic","font":"Liberation Sans","fontSize":32,"fontWeight":"bold","color":"#000000"},"encoding":{"text":{"field":"txt"}}},
{"data":{"name":"texts"},"transform":[{"filter":"datum.r == 'n32'"}],"mark":{"type":"text","align":"left","baseline":"alphabetic","font":"Liberation Sans","fontSize":32,"color":"#000000"},"encoding":{"text":{"field":"txt"}}},
{"data":{"name":"texts"},"transform":[{"filter":"datum.r == 'num'"}],"mark":{"type":"text","align":"right","baseline":"alphabetic","font":"Liberation Sans","fontSize":32,"color":"#000000"},"encoding":{"text":{"field":"txt"}}},
{"data":{"name":"texts"},"transform":[{"filter":"datum.r == 'b28'"}],"mark":{"type":"text","align":"left","baseline":"alphabetic","font":"Liberation Sans","fontSize":28,"fontWeight":"bold","color":"#000000"},"encoding":{"text":{"field":"txt"}}},
{"data":{"name":"texts"},"transform":[{"filter":"datum.r == 'r28'"}],"mark":{"type":"text","align":"left","baseline":"alphabetic","font":"Liberation Sans","fontSize":28.3,"fontWeight":"bold","color":"#C00000"},"encoding":{"text":{"field":"txt"}}},
{"data":{"name":"texts"},"transform":[{"filter":"datum.r == 'n19'"}],"mark":{"type":"text","align":"left","baseline":"alphabetic","font":"Liberation Sans","fontSize":19.5,"color":"#1a1a1a"},"encoding":{"text":{"field":"txt"}}},
{"data":{"name":"texts"},"transform":[{"filter":"datum.r == 'ax'"}],"mark":{"type":"text","align":"center","baseline":"alphabetic","font":"Liberation Sans","fontSize":23,"color":"#1a1a1a"},"encoding":{"text":{"field":"txt"}}},
{"data":{"name":"ell"},"mark":{"type":"point","shape":"M-0.79,0A0.79,1,0,1,0,0.79,0A0.79,1,0,1,0,-0.79,0Z","size":9409,"filled":false,"stroke":"#CC00FF","strokeWidth":3,"opacity":1}}
],
"resolve":{"axis":{"y":"independent"}}
}
